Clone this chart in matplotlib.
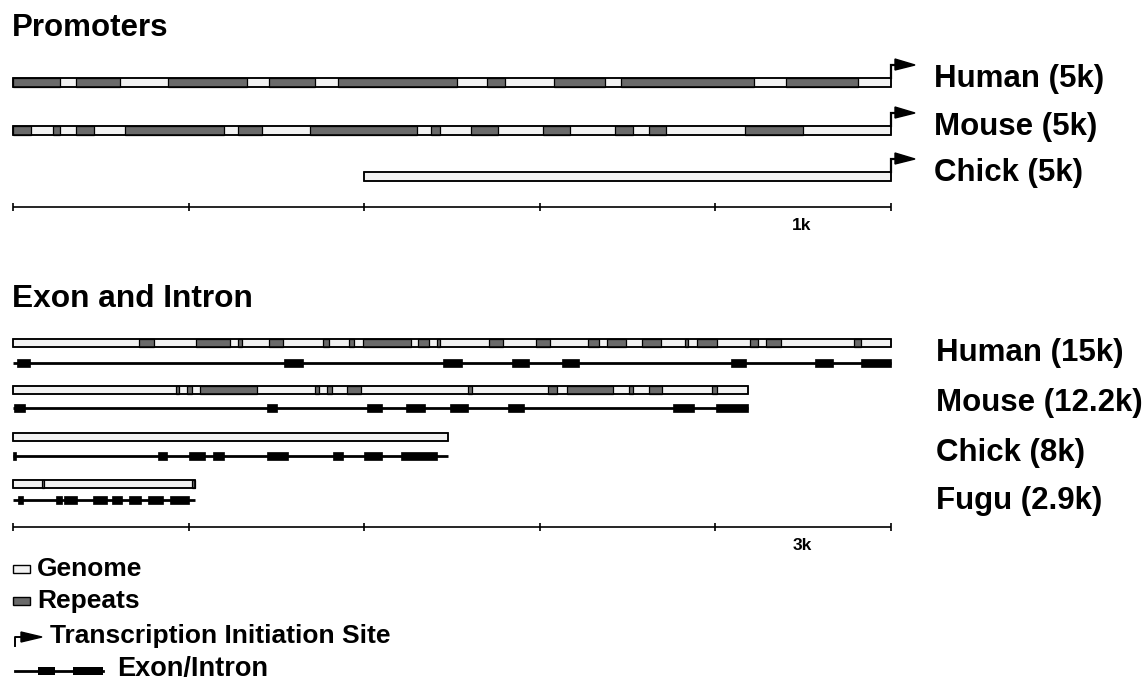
import matplotlib
matplotlib.use('Agg')
import matplotlib.pyplot as plt
from matplotlib.patches import Rectangle, Polygon

# ---- data (kb) ----
species_prom = ['Human (5k)', 'Mouse (5k)', 'Chick (5k)']
prom_start = [0.0, 0.0, 2.0]
prom_end = [5.0, 5.0, 5.0]
prom_repeats = [
    [(0, 0.27), (0.36, 0.61), (0.88, 1.33), (1.46, 1.72), (1.85, 2.53),
     (2.70, 2.80), (3.08, 3.37), (3.46, 4.22), (4.40, 4.81)],
    [(0, 0.10), (0.23, 0.27), (0.36, 0.46), (0.64, 1.20), (1.28, 1.42),
     (1.69, 2.30), (2.38, 2.43), (2.61, 2.76), (3.02, 3.17), (3.43, 3.53),
     (3.62, 3.72), (4.17, 4.50)],
    [],
]
prom_ticks = [0, 1, 2, 3, 4, 5]

species_gene = ['Human (15k)', 'Mouse (12.2k)', 'Chick (8k)', 'Fugu (2.9k)']
gene_len = [15.0, 12.56, 7.43, 3.11]
gene_repeats = [
    [(2.15, 2.41), (3.13, 3.71), (3.84, 3.91), (4.37, 4.61), (5.30, 5.40),
     (5.74, 5.83), (5.98, 6.80), (6.92, 7.11), (7.24, 7.30), (8.13, 8.37),
     (8.94, 9.18), (9.82, 10.01), (10.15, 10.47), (10.75, 11.07),
     (11.48, 11.53), (11.69, 12.03), (12.59, 12.73), (12.87, 13.12),
     (14.37, 14.49)],
    [(2.79, 2.84), (2.97, 3.06), (3.20, 4.17), (5.16, 5.23), (5.37, 5.45),
     (5.71, 5.95), (7.77, 7.84), (9.14, 9.29), (9.47, 10.25), (10.52, 10.59),
     (10.87, 11.09), (11.94, 12.03)],
    [],
    [(0.50, 0.53), (3.06, 3.11)],
]
gene_exons = [
    [(0.07, 0.29), (4.63, 4.96), (7.35, 7.67), (8.53, 8.82), (9.38, 9.67),
     (12.27, 12.52), (13.70, 14.01), (14.49, 15.0)],
    [(0.02, 0.21), (4.34, 4.51), (6.05, 6.31), (6.71, 7.04), (7.47, 7.77),
     (8.46, 8.73), (11.28, 11.64), (12.01, 12.56)],
    [(0.0, 0.05), (2.48, 2.63), (3.01, 3.28), (3.42, 3.61), (4.34, 4.70),
     (5.47, 5.64), (6.00, 6.31), (6.63, 7.24)],
    [(0.09, 0.17), (0.74, 0.84), (0.87, 1.09), (1.37, 1.61), (1.69, 1.86),
     (1.98, 2.19), (2.31, 2.56), (2.68, 3.01)],
]
gene_ticks = [0, 3, 6, 9, 12, 15]

legend_labels = ['Genome', 'Repeats', 'Transcription Initiation Site', 'Exon/Intron']

# ---- styles / layout (pixels) ----
W, H = 1148, 681
X0, X1 = 13, 891
LIGHT = '#f2f2f2'
DARK = '#6a6a6a'
FONT = 'Liberation Sans'
prom_y = [82, 130, 176]
gene_bar_y = [343, 390, 437, 484]
gene_exon_y = [363, 408, 456, 500]
gene_label_y = [361, 411, 461, 509]

fig = plt.figure(figsize=(W / 100, H / 100), dpi=100)

# canvas axes in pixels for text / legend
canvas = fig.add_axes([0, 0, 1, 1])
canvas.set_xlim(0, W)
canvas.set_ylim(H, 0)
canvas.axis('off')


def data_axes(total):
    ax = fig.add_axes([0, 0, 1, 1])
    ppk = (X1 - X0) / total
    ax.set_xlim(-X0 / ppk, (W - X0) / ppk)
    ax.set_ylim(H, 0)
    ax.axis('off')
    ax.patch.set_alpha(0)
    return ax, ppk


ax_p, ppk_p = data_axes(5.0)
ax_e, ppk_e = data_axes(15.0)

# ---- promoters ----
canvas.text(12, 36, 'Promoters', fontsize=22.5, fontweight='bold',
            family=FONT, va='baseline')
for y, s, e, reps, name in zip(prom_y, prom_start, prom_end, prom_repeats, species_prom):
    ax_p.barh(y, e - s, left=s, height=9, color=LIGHT, edgecolor='black', lw=1.1)
    if reps:
        ax_p.barh([y] * len(reps), [b - a for a, b in reps], left=[a for a, b in reps],
                  height=9, color=DARK, edgecolor='black', lw=0.9)
    ax_p.barh(y, e - s, left=s, height=9, fill=False, edgecolor='black', lw=1.1)
    # transcription start arrow
    ya = y - 17
    ax_p.plot([e, e, e + 5 / ppk_p], [y - 4.5, ya, ya], color='black', lw=1.6,
              solid_joinstyle='miter')
    ax_p.fill([e + 4 / ppk_p, e + 4 / ppk_p, e + 24 / ppk_p], [ya - 6, ya + 5, ya],
              color='black')
    canvas.text(934, y + 5, name, fontsize=22.5, fontweight='bold',
                family=FONT, va='baseline')

ax_p.hlines(207, prom_ticks[0], prom_ticks[-1], color='black', lw=1.2)
ax_p.vlines(prom_ticks, 203, 211, color='black', lw=1.2)
canvas.text(802, 226, '1k', fontsize=12.5, fontweight='bold', family=FONT,
            ha='center', va='center')

# ---- exon and intron ----
canvas.text(12, 307, 'Exon and Intron', fontsize=22.8, fontweight='bold',
            family=FONT, va='baseline')
for yb, ye, yl, L, reps, exons, name in zip(gene_bar_y, gene_exon_y, gene_label_y,
                                          gene_len, gene_repeats, gene_exons, species_gene):
    ax_e.barh(yb, L, left=0, height=8.5, color=LIGHT, edgecolor='black', lw=1.1)
    if reps:
        ax_e.barh([yb] * len(reps), [b - a for a, b in reps], left=[a for a, b in reps],
                  height=8.5, color=DARK, edgecolor='black', lw=0.9)
    ax_e.barh(yb, L, left=0, height=8.5, fill=False, edgecolor='black', lw=1.1)
    ax_e.hlines(ye, 0, L, color='black', lw=2)
    ax_e.barh([ye] * len(exons), [b - a for a, b in exons], left=[a for a, b in exons],
              height=8.5, color='black', edgecolor='black', lw=0.5)
    canvas.text(936, yl, name, fontsize=22.5, fontweight='bold',
                family=FONT, va='baseline')

ax_e.hlines(527, gene_ticks[0], gene_ticks[-1], color='black', lw=1.2)
ax_e.vlines(gene_ticks, 523, 531, color='black', lw=1.2)
canvas.text(802, 546, '3k', fontsize=12.5, fontweight='bold', family=FONT,
            ha='center', va='center')

# ---- legend ----
canvas.add_patch(Rectangle((13, 565), 17, 8, facecolor=LIGHT, edgecolor='black', lw=1))
canvas.text(37, 576, legend_labels[0], fontsize=19, fontweight='bold',
            family=FONT, va='baseline')
canvas.add_patch(Rectangle((13, 597), 17, 8, facecolor=DARK, edgecolor='black', lw=1))
canvas.text(37, 608, legend_labels[1], fontsize=19, fontweight='bold',
            family=FONT, va='baseline')
canvas.plot([15, 15, 22], [646, 637, 637], color='black', lw=1.4)
canvas.add_patch(Polygon([(21, 632), (21, 642), (42, 637)], closed=True,
                         facecolor='black', edgecolor='black'))
canvas.text(50, 643, legend_labels[2], fontsize=19, fontweight='bold',
            family=FONT, va='baseline')
canvas.plot([15, 103], [671, 671], color='black', lw=2)
canvas.add_patch(Rectangle((38, 667), 17, 8, facecolor='black'))
canvas.add_patch(Rectangle((73, 667), 30, 8, facecolor='black'))
canvas.text(117, 676, legend_labels[3], fontsize=19.5, fontweight='bold',
            family=FONT, va='baseline')

fig.savefig('out.png', dpi=100)
